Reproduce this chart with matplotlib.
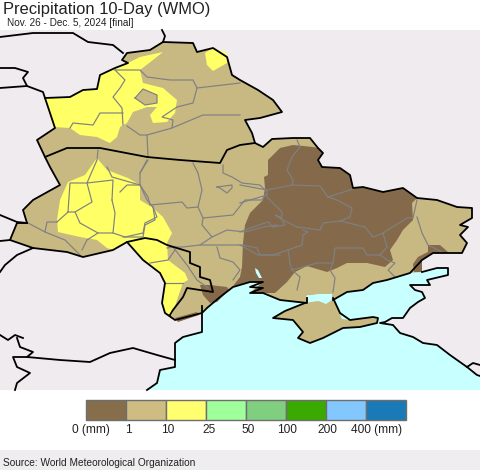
import matplotlib
matplotlib.use("Agg")
import matplotlib.pyplot as plt
from matplotlib.patches import Polygon, Rectangle

plt.rcParams['font.family'] = ['Liberation Sans', 'DejaVu Sans']

# legend
bin_colors = ['#876E4B', '#CFBC83', '#FFFF6F', '#9FFF9A', '#7FCF7F', '#3BAA00', '#82C8FF', '#1A7AB8']
bin_labels = ['0 (mm)', '1', '10', '25', '50', '100', '200', '400 (mm)']
label_x = [91, 128, 168, 209, 248, 287, 327, 377]

land_color = '#EFEBEF'
sea_color = '#C8FFFF'
brown = '#846A4B'
tan = '#C8B882'
yellow = '#FFFF66'

# map shapes, picture pixels
sea = [(147, 390), (157, 383), (160, 370), (175, 367), (175, 343), (183, 337), (200, 332), (202, 312),
       (207, 308), (220, 297), (233, 287), (250, 282), (263, 282), (250, 293), (263, 293), (280, 300),
       (307, 303), (307, 295), (333, 297), (347, 292), (363, 290), (373, 283), (387, 280), (410, 273),
       (422, 272), (437, 268), (448, 268), (448, 275), (427, 280), (430, 285), (410, 285), (415, 290),
       (422, 292), (425, 298), (418, 302), (410, 308), (403, 318), (392, 318), (385, 322), (380, 323),
       (393, 325), (400, 333), (413, 337), (423, 343), (437, 345), (450, 355), (467, 367), (477, 375),
       (480, 376), (480, 390)]

land_north = [(45, 98), (70, 97), (83, 90), (97, 89), (100, 75), (115, 68), (128, 63), (122, 60), (127, 53),
              (150, 50), (163, 42), (193, 43), (197, 52), (213, 48), (227, 57), (232, 75), (240, 80),
              (258, 90), (273, 100), (282, 112), (260, 118), (245, 120), (252, 133), (255, 143), (263, 147),
              (272, 139), (293, 138), (310, 138), (318, 148), (323, 153), (318, 160), (322, 167), (340, 168),
              (350, 175), (353, 188), (363, 187), (383, 192), (403, 188), (417, 198), (437, 200), (457, 207),
              (472, 208), (472, 218), (460, 225), (468, 227), (460, 235), (467, 243), (462, 253), (433, 253),
              (422, 260), (422, 272), (410, 273), (387, 280), (373, 283), (363, 290), (347, 292), (337, 298),
              (307, 295), (307, 303), (280, 300), (263, 293), (250, 293), (263, 282), (250, 282), (233, 287),
              (220, 297), (207, 308), (202, 313), (175, 320), (165, 313), (162, 303), (165, 283), (160, 273),
              (143, 260), (127, 242), (113, 250), (83, 257), (67, 252), (33, 248), (10, 240), (17, 223),
              (27, 223), (23, 210), (33, 200), (60, 185), (50, 167), (45, 157), (37, 140), (55, 128)]

crimea = [(273, 318), (285, 311), (305, 303), (318, 301), (333, 298), (340, 313), (350, 320), (373, 317),
          (378, 318), (377, 323), (360, 327), (343, 328), (323, 338), (310, 343), (298, 338), (303, 332),
          (293, 320)]

sivash_a = [(306, 296), (318, 294), (332, 294), (332, 300), (326, 304), (316, 300), (308, 301)]
sivash_b = [(340, 315), (348, 318), (349, 320), (342, 319)]
dnipro_lake = [(255, 268), (258, 270), (262, 278), (259, 278), (256, 273)]

brown_main = [(280, 148), (293, 145), (313, 147), (318, 148), (323, 153), (318, 160), (322, 167), (340, 168),
              (350, 175), (353, 188), (363, 187), (383, 192), (403, 188), (417, 198), (412, 203), (413, 220),
              (403, 230), (397, 240), (390, 250), (393, 260), (385, 267), (367, 263), (347, 263), (337, 268),
              (327, 272), (307, 266), (295, 272), (287, 282), (275, 293), (250, 293), (263, 282), (250, 282),
              (233, 286), (240, 277), (242, 267), (243, 243), (245, 225), (250, 213), (263, 200), (265, 188),
              (264, 177), (268, 175), (268, 160)]
brown_odessa = [(200, 285), (210, 285), (227, 287), (229, 290), (217, 302), (210, 303), (203, 295)]
brown_azov = [(422, 272), (414, 272), (413, 264), (418, 257), (428, 252), (428, 245), (440, 245), (449, 253),
              (433, 253), (422, 260)]
brown_danube = [(175, 318), (197, 312), (199, 315), (178, 322)]

yellow_north = [(45, 98), (70, 97), (83, 90), (97, 89), (100, 75), (115, 68), (128, 63), (140, 57), (163, 52),
                (153, 60), (140, 70), (143, 83), (163, 88), (177, 100), (175, 113), (167, 122),
                (153, 123), (150, 115), (157, 107), (147, 107), (133, 112), (127, 123), (120, 127), (117, 137),
                (110, 143), (97, 137), (80, 135), (70, 128), (53, 127)]
tan_hole = [(135, 98), (143, 89), (157, 95), (157, 103), (145, 105)]
yellow_blob = [(205, 53), (213, 48), (227, 53), (227, 63), (213, 71), (207, 65)]
yellow_south = [(97, 158), (107, 170), (128, 178), (140, 185), (140, 200), (153, 208), (163, 217), (172, 233),
                (167, 243), (168, 260), (185, 273), (188, 280), (183, 283), (177, 300), (172, 315), (165, 313),
                (162, 303), (165, 283), (160, 273), (143, 260), (127, 242), (113, 250), (107, 248), (97, 240),
                (80, 237), (58, 232), (57, 220), (60, 200), (68, 182), (85, 175)]

# black borders
black_lines = [
    land_north[:50] + [(410, 273), (387, 280), (373, 283), (363, 290), (347, 292), (333, 300)],
    [(307, 298), (307, 303), (280, 300), (263, 293), (250, 293), (263, 288), (250, 287), (263, 282), (250, 282),
     (233, 287), (220, 297), (207, 308), (202, 313), (175, 320), (165, 313), (162, 303), (165, 283), (160, 273),
     (143, 260), (127, 242), (113, 250), (83, 257), (67, 252), (33, 248), (10, 240), (17, 223), (27, 223),
     (23, 210), (33, 200), (60, 185), (50, 167), (45, 157), (37, 140), (55, 128), (45, 98)],
    [(45, 157), (67, 148), (100, 148), (147, 157), (180, 160), (220, 163), (227, 150), (240, 145), (255, 143)],
    [(127, 242), (145, 238), (157, 240), (167, 245), (190, 252), (190, 263), (200, 267), (200, 277), (210, 280),
     (213, 292), (187, 288), (183, 297), (173, 310), (170, 315)],
    [(202, 306), (202, 332), (183, 337), (175, 343), (175, 367), (160, 370), (157, 383), (147, 390)],
    [(333, 298), (340, 313), (350, 320), (373, 317), (378, 318), (377, 323), (360, 327), (343, 328), (323, 338),
     (310, 343), (298, 338), (303, 332), (293, 320), (273, 318), (285, 311), (305, 303)],
    [(422, 272), (437, 268), (448, 268), (448, 275), (427, 280), (430, 285), (410, 285), (415, 290), (422, 292),
     (425, 298), (418, 302), (410, 308), (403, 318), (392, 318), (385, 322), (380, 323), (393, 325), (400, 333),
     (413, 337), (423, 343), (437, 345), (450, 355), (467, 367), (473, 363), (480, 365)],
    [(467, 367), (477, 375), (480, 376)],
    [(0, 37), (33, 33), (73, 33), (88, 42), (113, 45), (123, 53)],
    [(162, 30), (165, 36), (163, 42)],
    [(0, 68), (15, 68), (28, 72), (23, 78), (27, 86), (0, 88)],
    [(27, 86), (43, 92), (45, 98)],
    [(0, 215), (17, 222), (27, 223)],
    [(10, 240), (0, 241)],
    [(33, 248), (17, 255), (5, 265), (0, 272)],
    [(0, 335), (8, 340), (15, 335), (23, 338)],
    [(17, 338), (20, 347), (33, 352), (27, 357), (60, 360), (90, 362), (110, 353), (133, 348), (157, 355), (175, 360)],
    [(27, 357), (13, 357), (17, 367), (30, 373), (17, 383), (15, 390)],
]

# grey region lines
grey_lines = [
    [(115, 70), (140, 70), (147, 77), (170, 80), (193, 80), (197, 88), (240, 83)],
    [(197, 88), (193, 103), (177, 107), (162, 117), (173, 120), (172, 128), (147, 135), (140, 135), (127, 126)],
    [(172, 128), (203, 115), (240, 115)],
    [(147, 135), (148, 157)],
    [(115, 70), (125, 80), (120, 88), (113, 97), (122, 108), (123, 125)],
    [(123, 113), (100, 113), (93, 125), (73, 123), (70, 128)],
    [(135, 98), (143, 89), (157, 95), (157, 103), (145, 105), (135, 98)],
    [(148, 160), (140, 173), (140, 185), (148, 197), (150, 205), (182, 202), (187, 208), (198, 207), (202, 190),
     (198, 173), (193, 163)],
    [(140, 185), (127, 185), (120, 192)],
    [(153, 207), (155, 220), (145, 225), (143, 237), (123, 237)],
    [(198, 207), (203, 218), (233, 215), (245, 200), (262, 200), (267, 192), (260, 185), (242, 183), (232, 177),
     (223, 173), (223, 165)],
    [(203, 218), (202, 225), (212, 237), (227, 230), (245, 232), (263, 227), (277, 225)],
    [(212, 237), (200, 245), (183, 247), (175, 247)],
    [(200, 245), (242, 245), (257, 248), (260, 255), (280, 255)],
    [(217, 247), (220, 258), (233, 262), (240, 270), (233, 280)],
    [(217, 187), (232, 185), (232, 188), (227, 193), (220, 188), (217, 187)],
    [(297, 140), (300, 147), (292, 157), (287, 170), (293, 180), (292, 185), (267, 190), (240, 185)],
    [(292, 185), (320, 186), (328, 197), (353, 189)],
    [(267, 190), (267, 197), (282, 212), (282, 218), (275, 215), (283, 220), (297, 227), (320, 230), (323, 223),
     (340, 221), (350, 217), (352, 208), (337, 200), (328, 197)],
    [(340, 221), (365, 227), (373, 237), (383, 233), (407, 218), (413, 218), (417, 200)],
    [(267, 195), (240, 203)],
    [(282, 220), (285, 225), (273, 227), (268, 222), (250, 228), (240, 232)],
    [(303, 230), (308, 232), (303, 235), (302, 245), (288, 250), (273, 255), (258, 255), (240, 245)],
    [(288, 250), (290, 263), (292, 270), (317, 263), (333, 263), (335, 248), (363, 248), (367, 255), (380, 255),
     (387, 247), (383, 233)],
    [(380, 255), (387, 260), (395, 263), (388, 270), (395, 277)],
    [(333, 263), (330, 270), (335, 278), (333, 292)],
    [(292, 270), (300, 277), (297, 290)],
    [(417, 217), (422, 233), (428, 245), (442, 252)],
    [(57, 222), (47, 222), (45, 232), (65, 240), (80, 255)],
    [(28, 223), (45, 232)],
    [(68, 212), (57, 222)],
    [(68, 212), (75, 212), (80, 223), (98, 233), (113, 233), (125, 237), (143, 233)],
    [(75, 212), (92, 202), (87, 183), (70, 183), (68, 212)],
    [(98, 233), (87, 240), (82, 250)],
    [(112, 200), (115, 213), (113, 233)],
    [(143, 233), (145, 223), (157, 217), (153, 207), (147, 200), (140, 185)],
    [(98, 150), (97, 160), (87, 183), (113, 180), (112, 200)],
    [(107, 167), (112, 177), (140, 185)],
    [(147, 160), (140, 173)],
    [(167, 248), (173, 247), (187, 265), (197, 280), (208, 288)],
    [(165, 283), (183, 283)],
    [(150, 263), (168, 260), (175, 250)],
]

fig = plt.figure(figsize=(4.8, 4.7), dpi=100)
ax = fig.add_axes([0, 0, 1, 1])
ax.set_xlim(0, 480)
ax.set_ylim(470, 0)
ax.axis('off')


def rellenar(ax, puntos, color, z):
    ax.add_patch(Polygon(puntos, closed=True, facecolor=color, edgecolor='none', linewidth=0, zorder=z))


ax.add_patch(Rectangle((0, 30), 480, 360, facecolor=land_color, edgecolor='none', zorder=0))
ax.add_patch(Rectangle((0, 450), 480, 20, facecolor='#EFEDF0', edgecolor='none', zorder=0))

rellenar(ax, sea, sea_color, 1)
rellenar(ax, land_north, tan, 2)
rellenar(ax, crimea, tan, 2)
for p in [sivash_a, sivash_b, dnipro_lake]:
    rellenar(ax, p, sea_color, 4)
for p in [brown_main, brown_odessa, brown_azov, brown_danube]:
    rellenar(ax, p, brown, 3)
for p in [yellow_north, yellow_blob, yellow_south]:
    rellenar(ax, p, yellow, 3)
rellenar(ax, tan_hole, tan, 3.5)

for linea in grey_lines:
    xs, ys = zip(*linea)
    ax.plot(xs, ys, color='#7F8082', lw=0.85, zorder=5, solid_joinstyle='miter')
for linea in black_lines:
    xs, ys = zip(*linea)
    ax.plot(xs, ys, color='black', lw=1.3, zorder=6)

# leyenda
for i, c in enumerate(bin_colors):
    ax.add_patch(Rectangle((86 + i * 40, 400), 40, 20, facecolor=c, edgecolor='#6E6E6E', linewidth=1, zorder=7))
for x, t in zip(label_x, bin_labels):
    ax.text(x, 430, t, ha='center', va='center', fontsize=8.6, color='#222222')

ax.text(3, 9.5, 'Precipitation 10-Day (WMO)', ha='left', va='center', fontsize=11.9, color='#222222')
ax.text(7, 23.5, 'Nov. 26 - Dec. 5, 2024 [final]', ha='left', va='center', fontsize=7.2, color='#222222')
ax.text(3, 463, 'Source: World Meteorological Organization', ha='left', va='center', fontsize=7.3, color='#222222')

fig.savefig('out.png', dpi=100)
